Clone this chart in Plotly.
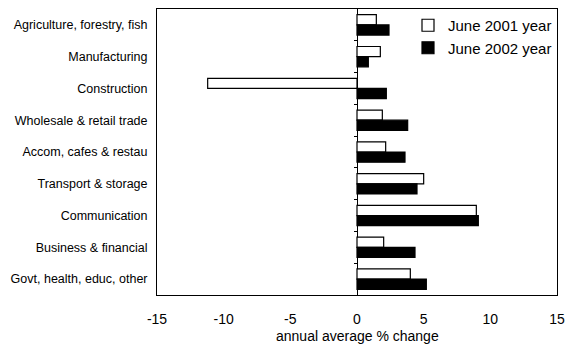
import plotly.graph_objects as go

categories = ["Agriculture, forestry, fish", "Manufacturing", "Construction",
              "Wholesale & retail trade", "Accom, cafes & restau", "Transport & storage",
              "Communication", "Business & financial", "Govt, health, educ, other"]
june_2001 = [1.45, 1.75, -11.2, 1.9, 2.15, 5.0, 8.95, 2.0, 4.0]
june_2002 = [2.4, 0.85, 2.2, 3.8, 3.6, 4.5, 9.1, 4.35, 5.2]
x_ticks = [-15, -10, -5, 0, 5, 10, 15]
x_title = "annual average % change"

n = len(categories)
boundaries = [i + 0.5 for i in range(n - 1)]

fig = go.Figure()
fig.add_trace(go.Bar(y=categories, x=june_2001, orientation="h", name="June 2001 year",
                     marker=dict(color="white", line=dict(color="black", width=1.2))))
fig.add_trace(go.Bar(y=categories, x=june_2002, orientation="h", name="June 2002 year",
                     marker=dict(color="black", line=dict(color="black", width=1.2))))
# empty helper trace so the category-boundary tick axis on the zero line is drawn
fig.add_trace(go.Scatter(x=[None], y=[None], yaxis="y2", showlegend=False,
                         hoverinfo="skip", mode="markers"))

font = "Liberation Sans, Arial, sans-serif"
fig.update_layout(
    width=566, height=346,
    margin=dict(l=157, r=9, t=9, b=51, autoexpand=False),
    paper_bgcolor="white", plot_bgcolor="white",
    barmode="group", bargap=0.36, bargroupgap=0.0,
    font=dict(family=font, color="black"),
    showlegend=True,
    legend=dict(x=1.0, y=1.0, xanchor="right", yanchor="top",
                font=dict(size=15, family=font, color="black"),
                bgcolor="rgba(0,0,0,0)", itemwidth=30, tracegroupgap=0),
    xaxis=dict(range=[-15, 15], tickvals=x_ticks, ticktext=[str(v) for v in x_ticks],
               tickfont=dict(size=14), showgrid=False, zeroline=True,
               zerolinecolor="black", zerolinewidth=1,
               showline=True, linecolor="black", linewidth=1, mirror=True,
               ticks="", ticklabelstandoff=11, ticklabeloverflow="allow", automargin=False),
    yaxis=dict(autorange="reversed", tickfont=dict(size=12.5), showgrid=False,
               showline=True, linecolor="black", linewidth=1, mirror=True,
               ticks="", ticklabelstandoff=6, automargin=False),
    yaxis2=dict(overlaying="y", anchor="free", position=0.5, side="left",
                range=[n - 0.5, -0.5], tickvals=boundaries, ticks="outside",
                ticklen=3, tickcolor="black", showticklabels=False, showgrid=False,
                zeroline=False, showline=False, automargin=False),
    annotations=[dict(text=x_title, xref="paper", yref="paper", x=0.5, y=-0.143,
                      xanchor="center", yanchor="middle", showarrow=False,
                      font=dict(size=14, family=font, color="black"))],
)

fig.write_html("out.html", config={"displayModeBar": False},
               post_script="document.body.style.margin='0';document.body.style.overflow='hidden';")
